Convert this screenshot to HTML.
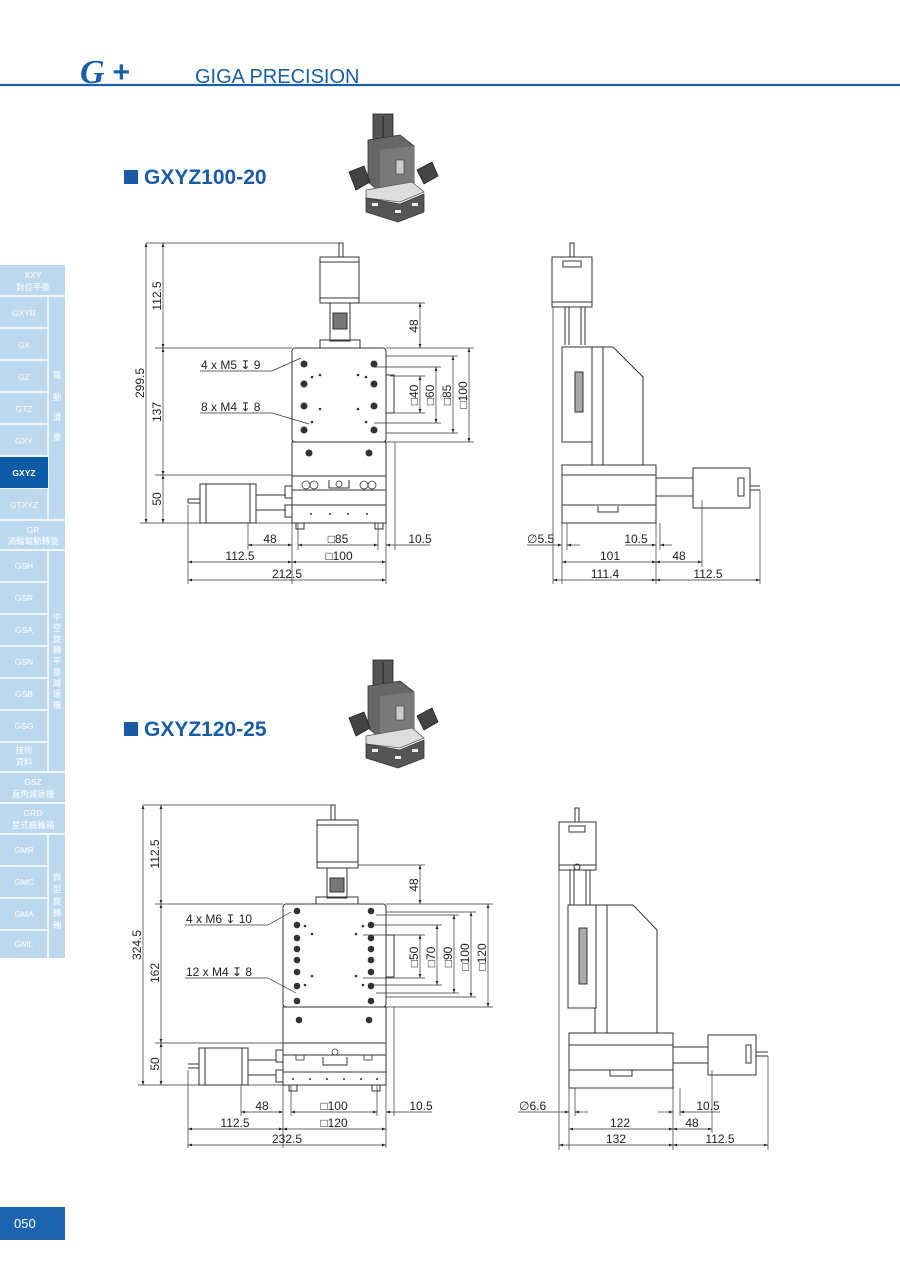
<!DOCTYPE html>
<html><head><meta charset="utf-8"><style>
html,body{margin:0;padding:0;background:#fff;}
body{width:900px;height:1272px;position:relative;overflow:hidden;font-family:"Liberation Sans","Noto Sans CJK TC",sans-serif;}
svg{position:absolute;left:0;top:0;}
.d{font-family:"Liberation Sans","DejaVu Sans",sans-serif;font-size:12px;fill:#222;}
.s{font-family:"Liberation Sans","Noto Sans CJK TC",sans-serif;fill:#fff;font-size:8.5px;text-anchor:middle;}
</style></head><body>
<svg width="900" height="1272" viewBox="0 0 900 1272">
<defs>
<marker id="a" viewBox="0 0 10 10" refX="10" refY="5" markerWidth="6" markerHeight="6" orient="auto-start-reverse"><path d="M0,1.5L10,5L0,8.5z" fill="#222"/></marker>
<g id="photo">
<rect x="373" y="114" width="20" height="28" fill="#555" stroke="#222" stroke-width="0.8"/>
<line x1="383" y1="116" x2="383" y2="138" stroke="#222"/>
<polygon points="368,140 400,135 414,146 414,184 380,192 368,182" fill="#666" stroke="#333" stroke-width="0.8"/>
<polygon points="380,150 414,146 414,184 380,192" fill="#7a7a7a"/>
<rect x="396" y="160" width="8" height="14" fill="#ccc" stroke="#333" stroke-width="0.6"/>
<polygon points="349,172 364,166 370,182 356,190" fill="#444" stroke="#222" stroke-width="0.8"/>
<polygon points="417,170 432,162 438,176 424,184" fill="#444" stroke="#222" stroke-width="0.8"/>
<polygon points="366,190 412,182 424,192 400,202 366,198" fill="#ddd" stroke="#555" stroke-width="0.8"/>
<polygon points="366,198 400,204 424,194 424,212 398,222 366,212" fill="#555" stroke="#333" stroke-width="0.8"/>
<rect x="372" y="203" width="6" height="3" fill="#eee"/><rect x="395" y="210" width="6" height="3" fill="#eee"/><rect x="412" y="203" width="6" height="3" fill="#eee"/>
</g>
</defs>
<!-- header -->
<line x1="0" y1="85" x2="900" y2="85" stroke="#1a5fa8" stroke-width="2.2"/>
<text x="80" y="83" font-family="Liberation Serif,serif" font-style="italic" font-weight="bold" font-size="34" fill="#1a5fa8">G</text>
<text x="112" y="82" font-family="Liberation Sans,sans-serif" font-style="italic" font-weight="bold" font-size="30" fill="#1a5fa8">+</text>
<text x="195" y="83" font-family="Liberation Sans,sans-serif" font-size="20" fill="#1a5fa8">GIGA PRECISION</text>
<!-- titles -->
<rect x="124" y="170" width="14" height="14" fill="#1a5ba6"/>
<text x="144" y="184" font-family="Liberation Sans,sans-serif" font-weight="bold" font-size="21" fill="#1a5ba6">GXYZ100-20</text>
<rect x="124" y="722" width="14" height="14" fill="#1a5ba6"/>
<text x="144" y="736" font-family="Liberation Sans,sans-serif" font-weight="bold" font-size="21" fill="#1a5ba6">GXYZ120-25</text>

<!-- product photos -->
<use href="#photo"/>
<use href="#photo" transform="translate(0,546)"/>

<!-- sidebar -->
<g>
<rect x="0" y="265" width="65" height="693" fill="#bcd8ef"/>
<g stroke="#fff" stroke-width="1.5">
<line x1="0" y1="296" x2="65" y2="296"/>
<line x1="0" y1="328" x2="48" y2="328"/><line x1="0" y1="360" x2="48" y2="360"/><line x1="0" y1="392" x2="48" y2="392"/><line x1="0" y1="424" x2="48" y2="424"/><line x1="0" y1="456" x2="48" y2="456"/><line x1="0" y1="488" x2="48" y2="488"/>
<line x1="0" y1="520" x2="65" y2="520"/><line x1="0" y1="550" x2="65" y2="550"/>
<line x1="0" y1="582" x2="48" y2="582"/><line x1="0" y1="614" x2="48" y2="614"/><line x1="0" y1="646" x2="48" y2="646"/><line x1="0" y1="678" x2="48" y2="678"/><line x1="0" y1="710" x2="48" y2="710"/><line x1="0" y1="742" x2="48" y2="742"/>
<line x1="0" y1="772" x2="65" y2="772"/><line x1="0" y1="803" x2="65" y2="803"/><line x1="0" y1="834" x2="65" y2="834"/>
<line x1="0" y1="866" x2="48" y2="866"/><line x1="0" y1="898" x2="48" y2="898"/><line x1="0" y1="930" x2="48" y2="930"/>
<line x1="48" y1="296" x2="48" y2="520"/><line x1="48" y1="550" x2="48" y2="772"/><line x1="48" y1="834" x2="48" y2="958"/>
</g>
<rect x="0" y="457" width="48" height="31" fill="#0d5aa7"/>
<text class="s" x="33" y="278">XXY</text><text class="s" x="33" y="290">對位平臺</text>
<text class="s" x="24" y="316">GXYR</text><text class="s" x="24" y="348">GX</text><text class="s" x="24" y="380">GZ</text><text class="s" x="24" y="412">GTZ</text><text class="s" x="24" y="444">GXY</text>
<text class="s" x="24" y="476" font-weight="bold">GXYZ</text><text class="s" x="24" y="508">GTXYZ</text>
<text class="s" x="57" y="378">電</text><text class="s" x="57" y="400">動</text><text class="s" x="57" y="420">滑</text><text class="s" x="57" y="440">臺</text>
<text class="s" x="33" y="533">GR</text><text class="s" x="33" y="544">渦輪電動轉臺</text>
<text class="s" x="24" y="569">GSH</text><text class="s" x="24" y="601">GSR</text><text class="s" x="24" y="633">GSA</text><text class="s" x="24" y="665">GSN</text><text class="s" x="24" y="697">GSB</text><text class="s" x="24" y="729">GSG</text>
<text class="s" x="24" y="753">技術</text><text class="s" x="24" y="765">資料</text>
<text class="s" x="57" y="620">中</text><text class="s" x="57" y="631">空</text><text class="s" x="57" y="642">旋</text><text class="s" x="57" y="653">轉</text><text class="s" x="57" y="664">平</text><text class="s" x="57" y="675">臺</text><text class="s" x="57" y="686">減</text><text class="s" x="57" y="697">速</text><text class="s" x="57" y="708">機</text>
<text class="s" x="33" y="785">GSZ</text><text class="s" x="33" y="797">直角減速機</text>
<text class="s" x="33" y="816">GRD</text><text class="s" x="33" y="828">星式齒輪箱</text>
<text class="s" x="24" y="853">GMR</text><text class="s" x="24" y="885">GMC</text><text class="s" x="24" y="917">GMA</text><text class="s" x="24" y="947">GML</text>
<text class="s" x="57" y="880">微</text><text class="s" x="57" y="892">型</text><text class="s" x="57" y="904">旋</text><text class="s" x="57" y="916">轉</text><text class="s" x="57" y="928">軸</text>
</g>
<rect x="0" y="1207" width="65" height="33" fill="#1c63b0"/>
<text x="14" y="1228" font-family="Liberation Sans,sans-serif" font-size="13" fill="#fff">050</text>

<!-- ===== DRAWING 1 FRONT ===== -->
<g fill="none" stroke="#333" stroke-width="1">
<rect x="339" y="243" width="4" height="14"/>
<rect x="320" y="257" width="39" height="46"/><line x1="320" y1="262" x2="359" y2="262"/><line x1="320" y1="298" x2="359" y2="298"/>
<rect x="330" y="303" width="20" height="38"/><rect x="333" y="313" width="14" height="16" fill="#777"/>
<rect x="320" y="340" width="40" height="8"/>
<rect x="292" y="348" width="94" height="94" rx="3"/>
<rect x="292" y="442" width="94" height="34"/>
<rect x="292" y="476" width="94" height="47"/><line x1="292" y1="490" x2="386" y2="490"/><line x1="292" y1="505" x2="386" y2="505"/>
<rect x="386" y="375" width="8" height="38"/>
<rect x="200" y="484" width="56" height="39"/><line x1="206" y1="484" x2="206" y2="523"/><line x1="250" y1="484" x2="250" y2="523"/>
<line x1="188" y1="499" x2="200" y2="499"/><line x1="188" y1="503" x2="200" y2="503"/><line x1="188" y1="499" x2="188" y2="503"/>
<line x1="256" y1="495" x2="286" y2="495"/><line x1="256" y1="510" x2="286" y2="510"/>
<rect x="285" y="486" width="7" height="12"/><rect x="285" y="505" width="7" height="12"/>
<rect x="296" y="523" width="8" height="6"/><rect x="375" y="523" width="8" height="6"/>
<path d="M329,480 v8 h20 v-8" />
</g>
<g fill="#333">
<circle cx="304" cy="364" r="3.5"/><circle cx="374" cy="364" r="3.5"/><circle cx="304" cy="384" r="3.5"/><circle cx="374" cy="384" r="3.5"/>
<circle cx="304" cy="406" r="3.5"/><circle cx="374" cy="406" r="3.5"/><circle cx="304" cy="430" r="3.5"/><circle cx="374" cy="430" r="3.5"/>
<circle cx="309" cy="453" r="3.5"/><circle cx="369" cy="453" r="3.5"/>
<circle cx="312" cy="377" r="1.3"/><circle cx="366" cy="377" r="1.3"/><circle cx="320" cy="409" r="1.3"/><circle cx="358" cy="409" r="1.3"/><circle cx="320" cy="375" r="1.3"/><circle cx="358" cy="375" r="1.3"/><circle cx="312" cy="422" r="1.3"/><circle cx="366" cy="422" r="1.3"/>
<circle cx="311" cy="514" r="1"/><circle cx="330" cy="514" r="1"/><circle cx="348" cy="514" r="1"/><circle cx="367" cy="514" r="1"/>
</g>
<g fill="none" stroke="#333" stroke-width="0.8">
<circle cx="306" cy="485" r="4"/><circle cx="314" cy="485" r="4"/><circle cx="364" cy="485" r="4"/><circle cx="372" cy="485" r="4"/><circle cx="339" cy="484" r="3"/>
</g>
<g stroke="#333" stroke-width="0.7" fill="none">
<line x1="146" y1="243" x2="339" y2="243"/><line x1="155" y1="348" x2="292" y2="348"/><line x1="155" y1="475" x2="292" y2="475"/><line x1="140" y1="523" x2="292" y2="523"/>
<line x1="146" y1="243" x2="146" y2="523" marker-start="url(#a)" marker-end="url(#a)"/>
<line x1="163" y1="243" x2="163" y2="348" marker-start="url(#a)" marker-end="url(#a)"/>
<line x1="163" y1="348" x2="163" y2="475" marker-start="url(#a)" marker-end="url(#a)"/>
<line x1="163" y1="475" x2="163" y2="523" marker-start="url(#a)" marker-end="url(#a)"/>
<line x1="359" y1="303" x2="425" y2="303"/><line x1="386" y1="348" x2="474" y2="348"/>
<line x1="420" y1="303" x2="420" y2="348" marker-start="url(#a)" marker-end="url(#a)"/>
<line x1="390" y1="376" x2="425" y2="376"/><line x1="390" y1="413" x2="425" y2="413"/>
<line x1="374" y1="367" x2="441" y2="367"/><line x1="374" y1="423" x2="441" y2="423"/>
<line x1="386" y1="356" x2="458" y2="356"/><line x1="386" y1="433" x2="458" y2="433"/>
<line x1="386" y1="442" x2="474" y2="442"/>
<line x1="420" y1="376" x2="420" y2="413" marker-start="url(#a)" marker-end="url(#a)"/>
<line x1="436" y1="367" x2="436" y2="423" marker-start="url(#a)" marker-end="url(#a)"/>
<line x1="453" y1="356" x2="453" y2="433" marker-start="url(#a)" marker-end="url(#a)"/>
<line x1="469" y1="348" x2="469" y2="442" marker-start="url(#a)" marker-end="url(#a)"/>
<polyline points="200,371 272,371 301,358"/><polyline points="200,413 272,413 309,424"/>
<line x1="188" y1="505" x2="188" y2="584"/><line x1="248" y1="523" x2="248" y2="550"/><line x1="292" y1="523" x2="292" y2="584"/><line x1="386" y1="523" x2="386" y2="584"/>
<line x1="298" y1="523" x2="298" y2="550"/><line x1="378" y1="523" x2="378" y2="550"/><line x1="395" y1="442" x2="395" y2="550"/>
<line x1="248" y1="545" x2="292" y2="545" marker-start="url(#a)" marker-end="url(#a)"/>
<line x1="298" y1="545" x2="378" y2="545" marker-start="url(#a)" marker-end="url(#a)"/>
<line x1="386" y1="545" x2="430" y2="545" marker-start="url(#a)"/>
<line x1="188" y1="562" x2="292" y2="562" marker-start="url(#a)" marker-end="url(#a)"/>
<line x1="292" y1="562" x2="386" y2="562" marker-start="url(#a)" marker-end="url(#a)"/>
<line x1="188" y1="580" x2="386" y2="580" marker-start="url(#a)" marker-end="url(#a)"/>
</g>
<g class="d">
<text transform="translate(144,383) rotate(-90)" text-anchor="middle">299.5</text>
<text transform="translate(161,296) rotate(-90)" text-anchor="middle">112.5</text>
<text transform="translate(161,412) rotate(-90)" text-anchor="middle">137</text>
<text transform="translate(161,499) rotate(-90)" text-anchor="middle">50</text>
<text transform="translate(418,326) rotate(-90)" text-anchor="middle">48</text>
<text transform="translate(418,395) rotate(-90)" text-anchor="middle">□40</text>
<text transform="translate(434,395) rotate(-90)" text-anchor="middle">□60</text>
<text transform="translate(451,395) rotate(-90)" text-anchor="middle">□85</text>
<text transform="translate(467,395) rotate(-90)" text-anchor="middle">□100</text>
<text x="201" y="369">4 x  M5 ↧ 9</text>
<text x="201" y="411">8 x  M4 ↧ 8</text>
<text x="270" y="543" text-anchor="middle">48</text><text x="338" y="543" text-anchor="middle">□85</text><text x="420" y="543" text-anchor="middle">10.5</text>
<text x="240" y="560" text-anchor="middle">112.5</text><text x="339" y="560" text-anchor="middle">□100</text>
<text x="287" y="578" text-anchor="middle">212.5</text>
</g>

<!-- ===== DRAWING 1 SIDE ===== -->
<g fill="none" stroke="#333" stroke-width="1">
<rect x="570" y="243" width="4" height="14"/>
<rect x="552" y="257" width="40" height="50"/><line x1="552" y1="302" x2="592" y2="302"/><rect x="563" y="261" width="18" height="6"/>
<line x1="565" y1="307" x2="565" y2="345"/><line x1="569" y1="307" x2="569" y2="345"/><line x1="581" y1="307" x2="581" y2="345"/><line x1="585" y1="307" x2="585" y2="345"/>
<rect x="562" y="347" width="30" height="95"/><rect x="575" y="372" width="8" height="40" fill="#aaa"/>
<polyline points="592,347 613,347 643,377 643,465"/><line x1="603" y1="347" x2="603" y2="465"/><line x1="592" y1="442" x2="592" y2="465"/>
<rect x="562" y="465" width="94" height="58"/><line x1="562" y1="475" x2="656" y2="475"/><line x1="562" y1="505" x2="656" y2="505"/>
<rect x="693" y="468" width="57" height="40"/><rect x="738" y="478" width="6" height="18"/>
<line x1="750" y1="486" x2="760" y2="486"/><line x1="750" y1="490" x2="760" y2="490"/>
<line x1="656" y1="478" x2="693" y2="478"/><line x1="656" y1="496" x2="693" y2="496"/>
<path d="M598,506 v6 h20 v-6"/>
</g>
<g stroke="#333" stroke-width="0.7" fill="none">
<line x1="553" y1="307" x2="553" y2="584"/><line x1="562" y1="523" x2="562" y2="584"/><line x1="567" y1="523" x2="567" y2="550"/><line x1="656" y1="523" x2="656" y2="584"/><line x1="660" y1="523" x2="660" y2="550"/><line x1="702" y1="500" x2="702" y2="567"/><line x1="760" y1="490" x2="760" y2="584"/>
<line x1="527" y1="545" x2="562" y2="545" marker-end="url(#a)"/><line x1="567" y1="545" x2="580" y2="545" marker-start="url(#a)"/>
<line x1="625" y1="545" x2="656" y2="545" marker-end="url(#a)"/><line x1="660" y1="545" x2="672" y2="545" marker-start="url(#a)"/>
<line x1="562" y1="562" x2="656" y2="562" marker-start="url(#a)" marker-end="url(#a)"/>
<line x1="656" y1="562" x2="702" y2="562" marker-start="url(#a)" marker-end="url(#a)"/>
<line x1="553" y1="580" x2="656" y2="580" marker-start="url(#a)" marker-end="url(#a)"/>
<line x1="656" y1="580" x2="760" y2="580" marker-start="url(#a)" marker-end="url(#a)"/>
</g>
<g class="d">
<text x="527" y="543">∅5.5</text><text x="636" y="543" text-anchor="middle">10.5</text>
<text x="610" y="560" text-anchor="middle">101</text><text x="679" y="560" text-anchor="middle">48</text>
<text x="605" y="578" text-anchor="middle">111.4</text><text x="708" y="578" text-anchor="middle">112.5</text>
</g>

<!-- ===== DRAWING 2 FRONT ===== -->
<g fill="none" stroke="#333" stroke-width="1">
<rect x="331" y="805" width="4" height="15"/>
<rect x="317" y="820" width="41" height="48"/><line x1="317" y1="825" x2="358" y2="825"/><line x1="317" y1="862" x2="358" y2="862"/>
<rect x="327" y="868" width="20" height="30"/><rect x="330" y="878" width="14" height="14" fill="#777"/>
<rect x="316" y="897" width="42" height="7"/>
<rect x="283" y="904" width="103" height="103" rx="3"/>
<rect x="283" y="1007" width="103" height="36"/>
<rect x="283" y="1043" width="103" height="42"/><line x1="283" y1="1055" x2="386" y2="1055"/><line x1="283" y1="1072" x2="386" y2="1072"/>
<rect x="386" y="935" width="8" height="42"/>
<rect x="199" y="1048" width="49" height="37"/><line x1="205" y1="1048" x2="205" y2="1085"/><line x1="242" y1="1048" x2="242" y2="1085"/>
<line x1="188" y1="1064" x2="199" y2="1064"/><line x1="188" y1="1068" x2="199" y2="1068"/>
<line x1="248" y1="1060" x2="276" y2="1060"/><line x1="248" y1="1075" x2="276" y2="1075"/>
<rect x="276" y="1050" width="7" height="12"/><rect x="276" y="1070" width="7" height="12"/>
<rect x="289" y="1085" width="8" height="6"/><rect x="372" y="1085" width="8" height="6"/>
<path d="M323,1057 v8 h24 v-8"/>
</g>
<g fill="#333">
<circle cx="297" cy="911" r="3.3"/><circle cx="297" cy="925" r="3.3"/><circle cx="297" cy="938" r="3.3"/><circle cx="297" cy="949" r="3.3"/><circle cx="297" cy="960" r="3.3"/><circle cx="297" cy="972" r="3.3"/><circle cx="297" cy="986" r="3.3"/><circle cx="297" cy="1001" r="3.3"/>
<circle cx="371" cy="911" r="3.3"/><circle cx="371" cy="925" r="3.3"/><circle cx="371" cy="938" r="3.3"/><circle cx="371" cy="949" r="3.3"/><circle cx="371" cy="960" r="3.3"/><circle cx="371" cy="972" r="3.3"/><circle cx="371" cy="986" r="3.3"/><circle cx="371" cy="1001" r="3.3"/>
<circle cx="299" cy="1020" r="3.3"/><circle cx="369" cy="1020" r="3.3"/>
<circle cx="312" cy="934" r="1.3"/><circle cx="356" cy="934" r="1.3"/><circle cx="312" cy="976" r="1.3"/><circle cx="356" cy="976" r="1.3"/><circle cx="305" cy="926" r="1.3"/><circle cx="363" cy="926" r="1.3"/><circle cx="305" cy="985" r="1.3"/><circle cx="363" cy="985" r="1.3"/>
<circle cx="293" cy="1079" r="1"/><circle cx="310" cy="1079" r="1"/><circle cx="327" cy="1079" r="1"/><circle cx="344" cy="1079" r="1"/><circle cx="361" cy="1079" r="1"/><circle cx="377" cy="1079" r="1"/>
</g>
<g fill="none" stroke="#333" stroke-width="0.8"><circle cx="335" cy="1052" r="3"/><rect x="296" y="1055" width="8" height="5"/><rect x="364" y="1055" width="8" height="5"/></g>
<g stroke="#333" stroke-width="0.7" fill="none">
<line x1="143" y1="805" x2="331" y2="805"/><line x1="155" y1="904" x2="283" y2="904"/><line x1="155" y1="1043" x2="283" y2="1043"/><line x1="138" y1="1085" x2="283" y2="1085"/>
<line x1="143" y1="805" x2="143" y2="1085" marker-start="url(#a)" marker-end="url(#a)"/>
<line x1="161" y1="805" x2="161" y2="904" marker-start="url(#a)" marker-end="url(#a)"/>
<line x1="161" y1="904" x2="161" y2="1043" marker-start="url(#a)" marker-end="url(#a)"/>
<line x1="161" y1="1043" x2="161" y2="1085" marker-start="url(#a)" marker-end="url(#a)"/>
<line x1="358" y1="865" x2="425" y2="865"/><line x1="386" y1="904" x2="493" y2="904"/>
<line x1="420" y1="865" x2="420" y2="904" marker-start="url(#a)" marker-end="url(#a)"/>
<line x1="363" y1="935" x2="425" y2="935"/><line x1="363" y1="978" x2="425" y2="978"/>
<line x1="371" y1="925" x2="442" y2="925"/><line x1="371" y1="985" x2="442" y2="985"/>
<line x1="376" y1="915" x2="459" y2="915"/><line x1="376" y1="993" x2="459" y2="993"/>
<line x1="386" y1="912" x2="476" y2="912"/><line x1="386" y1="997" x2="476" y2="997"/>
<line x1="386" y1="1007" x2="493" y2="1007"/>
<line x1="420" y1="935" x2="420" y2="978" marker-start="url(#a)" marker-end="url(#a)"/>
<line x1="437" y1="925" x2="437" y2="985" marker-start="url(#a)" marker-end="url(#a)"/>
<line x1="454" y1="915" x2="454" y2="993" marker-start="url(#a)" marker-end="url(#a)"/>
<line x1="471" y1="912" x2="471" y2="997" marker-start="url(#a)" marker-end="url(#a)"/>
<line x1="488" y1="904" x2="488" y2="1007" marker-start="url(#a)" marker-end="url(#a)"/>
<polyline points="185,925 268,925 291,912"/><polyline points="185,978 268,978 296,993"/>
<line x1="188" y1="1070" x2="188" y2="1148"/><line x1="241" y1="1085" x2="241" y2="1116"/><line x1="283" y1="1085" x2="283" y2="1148"/><line x1="386" y1="1085" x2="386" y2="1148"/>
<line x1="291" y1="1085" x2="291" y2="1116"/><line x1="377" y1="1085" x2="377" y2="1116"/><line x1="394" y1="1007" x2="394" y2="1116"/>
<line x1="241" y1="1112" x2="283" y2="1112" marker-start="url(#a)" marker-end="url(#a)"/>
<line x1="291" y1="1112" x2="377" y2="1112" marker-start="url(#a)" marker-end="url(#a)"/>
<line x1="386" y1="1112" x2="432" y2="1112" marker-start="url(#a)"/>
<line x1="188" y1="1129" x2="283" y2="1129" marker-start="url(#a)" marker-end="url(#a)"/>
<line x1="283" y1="1129" x2="386" y2="1129" marker-start="url(#a)" marker-end="url(#a)"/>
<line x1="188" y1="1145" x2="386" y2="1145" marker-start="url(#a)" marker-end="url(#a)"/>
</g>
<g class="d">
<text transform="translate(141,945) rotate(-90)" text-anchor="middle">324.5</text>
<text transform="translate(159,854) rotate(-90)" text-anchor="middle">112.5</text>
<text transform="translate(159,973) rotate(-90)" text-anchor="middle">162</text>
<text transform="translate(159,1064) rotate(-90)" text-anchor="middle">50</text>
<text transform="translate(418,885) rotate(-90)" text-anchor="middle">48</text>
<text transform="translate(418,957) rotate(-90)" text-anchor="middle">□50</text>
<text transform="translate(435,957) rotate(-90)" text-anchor="middle">□70</text>
<text transform="translate(452,957) rotate(-90)" text-anchor="middle">□90</text>
<text transform="translate(469,957) rotate(-90)" text-anchor="middle">□100</text>
<text transform="translate(486,957) rotate(-90)" text-anchor="middle">□120</text>
<text x="186" y="923">4 x  M6 ↧ 10</text>
<text x="186" y="976">12 x  M4 ↧ 8</text>
<text x="262" y="1110" text-anchor="middle">48</text><text x="334" y="1110" text-anchor="middle">□100</text><text x="421" y="1110" text-anchor="middle">10.5</text>
<text x="235" y="1127" text-anchor="middle">112.5</text><text x="334" y="1127" text-anchor="middle">□120</text>
<text x="287" y="1143" text-anchor="middle">232.5</text>
</g>

<!-- ===== DRAWING 2 SIDE ===== -->
<g fill="none" stroke="#333" stroke-width="1">
<rect x="575" y="808" width="4" height="14"/>
<rect x="559" y="822" width="37" height="48"/><line x1="559" y1="865" x2="596" y2="865"/><rect x="569" y="826" width="16" height="6"/>
<circle cx="577" cy="867" r="3"/>
<line x1="570" y1="870" x2="570" y2="905"/><line x1="574" y1="870" x2="574" y2="905"/><line x1="586" y1="870" x2="586" y2="905"/><line x1="590" y1="870" x2="590" y2="905"/>
<rect x="568" y="905" width="28" height="103"/><rect x="579" y="928" width="8" height="56" fill="#aaa"/>
<polyline points="596,905 633,905 657,930 657,1033"/><line x1="607" y1="905" x2="607" y2="1033"/><line x1="595" y1="1008" x2="595" y2="1033"/>
<rect x="569" y="1033" width="104" height="55"/><line x1="569" y1="1045" x2="673" y2="1045"/><line x1="569" y1="1070" x2="673" y2="1070"/>
<rect x="708" y="1035" width="48" height="40"/><rect x="746" y="1045" width="5" height="18"/>
<line x1="756" y1="1052" x2="768" y2="1052"/><line x1="756" y1="1056" x2="768" y2="1056"/>
<line x1="673" y1="1047" x2="708" y2="1047"/><line x1="673" y1="1063" x2="708" y2="1063"/>
<path d="M610,1070 v6 h22 v-6"/>
</g>
<g stroke="#333" stroke-width="0.7" fill="none">
<line x1="559" y1="870" x2="559" y2="1150"/><line x1="569" y1="1088" x2="569" y2="1150"/><line x1="575" y1="1088" x2="575" y2="1116"/><line x1="673" y1="1088" x2="673" y2="1150"/><line x1="680" y1="1088" x2="680" y2="1116"/><line x1="712" y1="1070" x2="712" y2="1133"/><line x1="768" y1="1056" x2="768" y2="1150"/>
<line x1="518" y1="1112" x2="569" y2="1112" marker-end="url(#a)"/><line x1="575" y1="1112" x2="588" y2="1112" marker-start="url(#a)"/>
<line x1="658" y1="1112" x2="673" y2="1112" marker-end="url(#a)"/><line x1="680" y1="1112" x2="720" y2="1112" marker-start="url(#a)"/>
<line x1="569" y1="1129" x2="673" y2="1129" marker-start="url(#a)" marker-end="url(#a)"/>
<line x1="673" y1="1129" x2="712" y2="1129" marker-start="url(#a)" marker-end="url(#a)"/>
<line x1="559" y1="1145" x2="673" y2="1145" marker-start="url(#a)" marker-end="url(#a)"/>
<line x1="673" y1="1145" x2="768" y2="1145" marker-start="url(#a)" marker-end="url(#a)"/>
</g>
<g class="d">
<text x="519" y="1110">∅6.6</text><text x="708" y="1110" text-anchor="middle">10.5</text>
<text x="620" y="1127" text-anchor="middle">122</text><text x="692" y="1127" text-anchor="middle">48</text>
<text x="616" y="1143" text-anchor="middle">132</text><text x="720" y="1143" text-anchor="middle">112.5</text>
</g>
</svg>
</body></html>
